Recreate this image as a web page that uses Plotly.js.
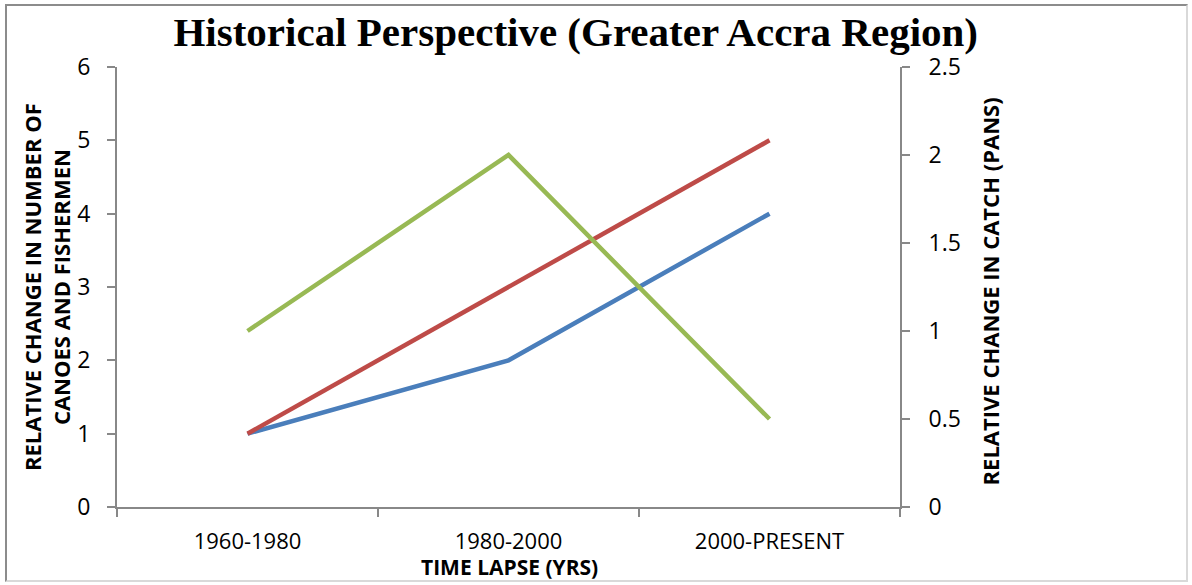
<!DOCTYPE html>
<html><head><meta charset="utf-8">
<script src="https://cdn.plot.ly/plotly-3.0.1.min.js"></script>
<style>
html,body{margin:0;padding:0;background:#fff;}
#chart{width:1192px;height:585px;}
#frame{position:absolute;left:5px;top:4px;width:1183px;height:578px;border-left:2px solid #8c8c8c;border-top:2px solid #8c8c8c;border-right:2px solid #d9d9d9;border-bottom:2px solid #d9d9d9;box-sizing:border-box;pointer-events:none;}
</style></head>
<body>
<div id="chart"></div>
<div id="frame"></div>
<script>
const categories = ["1960-1980", "1980-2000", "2000-PRESENT"];
const canoes = [1, 2, 4];
const fishermen = [1, 3, 5];
const catchPans = [1, 2, 0.5];

const font = "Open Sans, Noto Sans, sans-serif";
const traces = [
  {x: categories, y: canoes, type: "scatter", mode: "lines", name: "Canoes", line: {color: "#4A7EBB", width: 4.5}, yaxis: "y"},
  {x: categories, y: fishermen, type: "scatter", mode: "lines", name: "Fishermen", line: {color: "#BE4B48", width: 4.5}, yaxis: "y"},
  {x: categories, y: catchPans, type: "scatter", mode: "lines", name: "Catch", line: {color: "#98B954", width: 4.5}, yaxis: "y2"}
];

const layout = {
  width: 1192, height: 585,
  margin: {l: 117, r: 292, t: 67, b: 78},
  paper_bgcolor: "#fff", plot_bgcolor: "#fff",
  showlegend: false,
  font: {family: font, color: "#000", size: 23},
  title: {text: "Historical Perspective (Greater Accra Region)", font: {family: "Liberation Serif, Times New Roman, serif", size: 41, color: "#000", weight: "bold"}, xref: "container", x: 0.483, xanchor: "center", yref: "container", y: 0.946, yanchor: "middle"},
  xaxis: {type: "category", range: [-0.5, 2.5], tickson: "boundaries", ticks: "outside", ticklen: 8, tickcolor: "#888", tickwidth: 2, showline: true, linecolor: "#888", linewidth: 2, showgrid: false, zeroline: false, tickfont: {family: font, size: 22}, ticklabelstandoff: 14, fixedrange: true},
  yaxis: {range: [0, 6], dtick: 1, ticks: "outside", ticklen: 8, tickcolor: "#888", tickwidth: 2, showline: true, linecolor: "#888", linewidth: 2, showgrid: false, zeroline: false, tickfont: {family: font, size: 23}, ticklabelstandoff: 12},
  yaxis2: {range: [0, 2.5], dtick: 0.5, overlaying: "y", side: "right", ticks: "outside", ticklen: 8, tickcolor: "#888", tickwidth: 2, showline: true, linecolor: "#888", linewidth: 2, showgrid: false, zeroline: false, tickfont: {family: font, size: 23}, ticklabelstandoff: 14},
  annotations: [
    {text: "<b>RELATIVE CHANGE IN NUMBER OF<br>CANOES AND FISHERMEN</b>", textangle: -90, xref: "paper", yref: "paper", x: (46 - 117) / 783, y: 0.5, xanchor: "center", yanchor: "middle", showarrow: false, font: {family: font, size: 22, color: "#000"}},
    {text: "<b>RELATIVE CHANGE IN CATCH (PANS)</b>", textangle: -90, xref: "paper", yref: "paper", x: (990 - 117) / 783, y: 0.49, xanchor: "center", yanchor: "middle", showarrow: false, font: {family: font, size: 22, color: "#000"}},
    {text: "<b>TIME LAPSE (YRS)</b>", xref: "paper", yref: "paper", x: (509 - 117) / 783, y: -(567 - 507) / 440, xanchor: "center", yanchor: "middle", showarrow: false, font: {family: font, size: 21, color: "#000"}}
  ]
};

Plotly.newPlot("chart", traces, layout, {displayModeBar: false, staticPlot: true});
</script>
</body></html>
